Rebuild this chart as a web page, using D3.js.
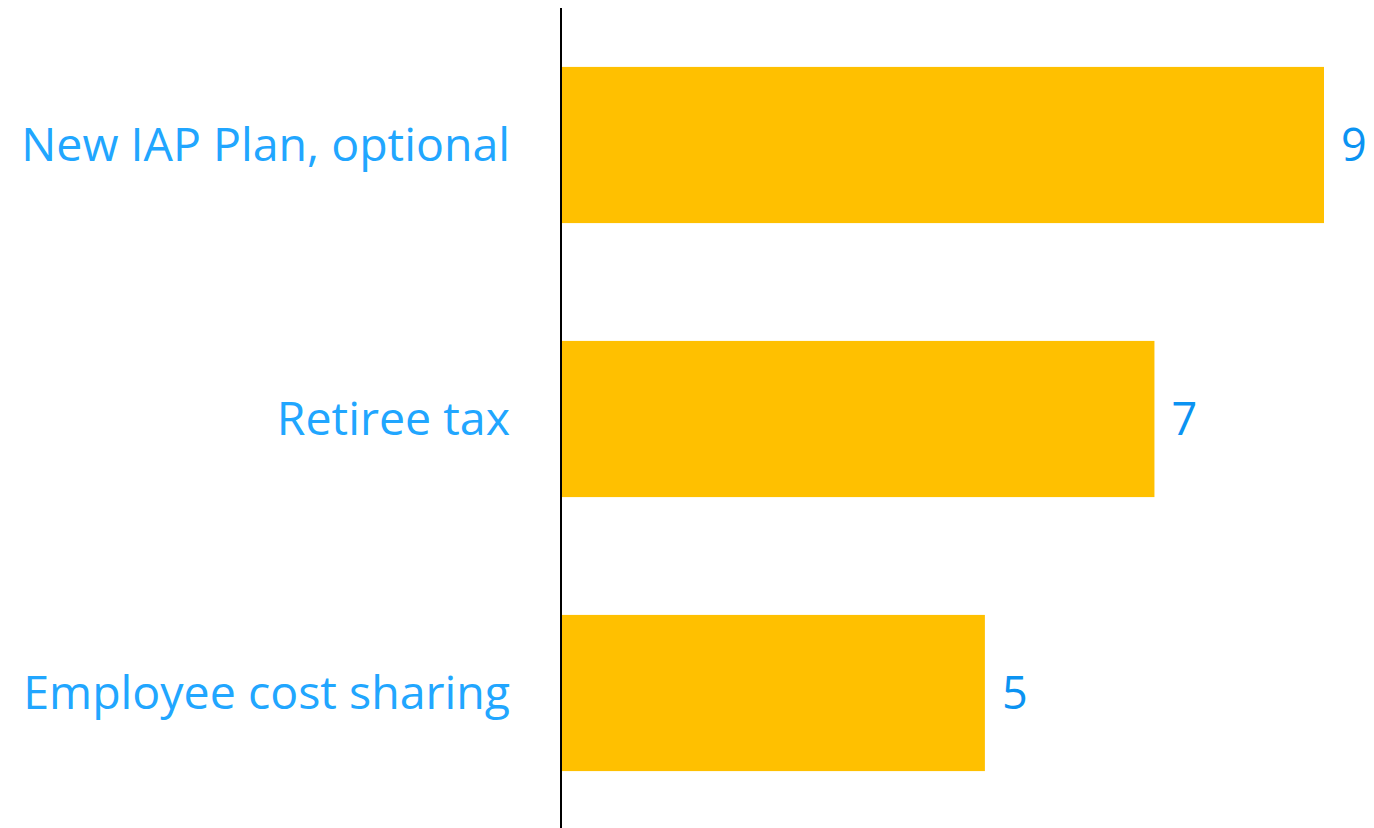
<!DOCTYPE html>
<html>
<head>
<meta charset="utf-8">
<script src="https://cdn.jsdelivr.net/npm/d3@7"></script>
<style>
  html, body { margin: 0; padding: 0; background: #fff; }
  svg { display: block; }
</style>
</head>
<body>
<div id="chart"></div>
<script>
  var categories = ['New IAP Plan, optional', 'Retiree tax', 'Employee cost sharing'];
  var values = [9, 7, 5];

  var width = 1374;
  var height = 828;
  var axisX = 561;

  var svg = d3.select('#chart').append('svg')
    .attr('width', width)
    .attr('height', height);

  var x = d3.scaleLinear().domain([0, 9]).range([axisX, 1324]);
  var y = d3.scaleBand().domain(categories).range([8, 830])
    .paddingInner(0.43).paddingOuter(0.215);

  svg.append('g').selectAll('rect')
    .data(values).enter().append('rect')
    .attr('x', x(0))
    .attr('y', function (d, i) { return y(categories[i]); })
    .attr('width', function (d) { return x(d) - x(0); })
    .attr('height', y.bandwidth())
    .attr('fill', '#ffc000');

  // axis line
  svg.append('line')
    .attr('x1', axisX).attr('x2', axisX)
    .attr('y1', 8).attr('y2', height)
    .attr('stroke', '#000').attr('stroke-width', 2);

  svg.append('g').selectAll('text')
    .data(categories).enter().append('text')
    .attr('x', axisX - 51)
    .attr('y', function (d) { return y(d) + y.bandwidth() / 2; })
    .attr('dy', '0.35em')
    .attr('text-anchor', 'end')
    .attr('font-family', 'Open Sans, sans-serif')
    .attr('font-size', '46.5px')
    .attr('fill', '#21a6ff')
    .text(function (d) { return d; });

  svg.append('g').selectAll('text')
    .data(values).enter().append('text')
    .attr('x', function (d) { return x(d) + 17; })
    .attr('y', function (d, i) { return y(categories[i]) + y.bandwidth() / 2; })
    .attr('dy', '0.35em')
    .attr('font-family', 'Open Sans, sans-serif')
    .attr('font-size', '45px')
    .attr('fill', '#0b93f2')
    .text(function (d) { return d; });
</script>
</body>
</html>
